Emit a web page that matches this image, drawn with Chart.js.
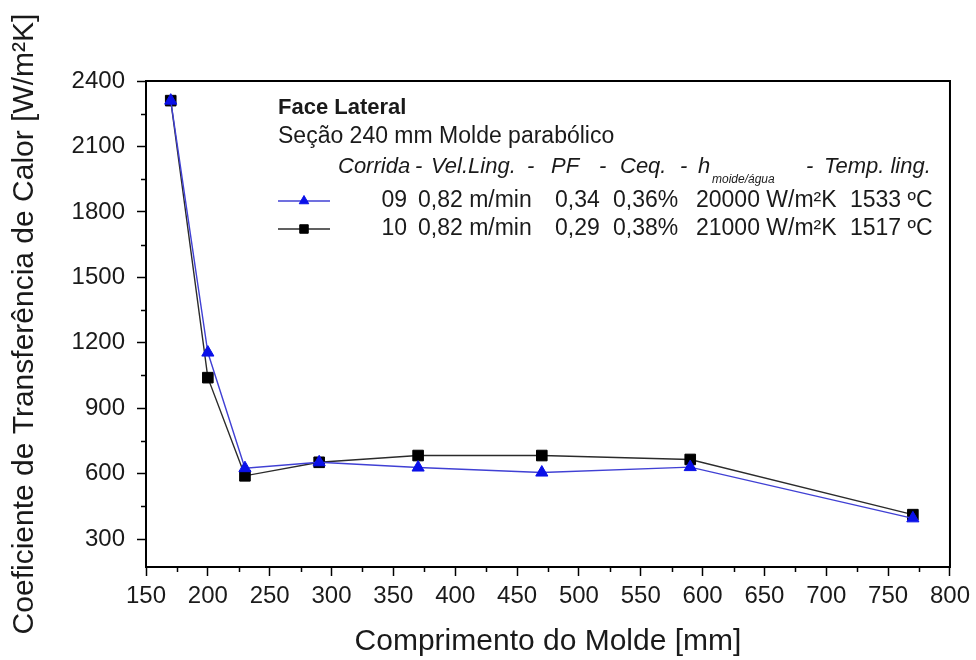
<!DOCTYPE html>
<html>
<head>
<meta charset="utf-8">
<script src="https://cdn.jsdelivr.net/npm/chart.js@4.4.1/dist/chart.umd.min.js"></script>
<style>
html,body{margin:0;padding:0;background:#fff;}
#wrap{width:976px;height:660px;position:relative;}
</style>
</head>
<body>
<div id="wrap"><canvas id="chart"></canvas></div>
<script>

// positions along the mould (mm)
const xValues = [170, 200, 230, 290, 370, 470, 590, 770];

// heat transfer coefficient, run 09 and run 10 (W/m2K)
const run09 = [2310, 1155, 625, 652, 628, 605, 630, 395];
const run10 = [2310, 1040, 590, 652, 683, 683, 665, 412];

const xTicks = [150, 200, 250, 300, 350, 400, 450, 500, 550, 600, 650, 700, 750, 800];
const yTicks = [300, 600, 900, 1200, 1500, 1800, 2100, 2400];
const xMinorTicks = [175, 225, 275, 325, 375, 425, 475, 525, 575, 625, 675, 725, 775];
const yMinorTicks = [450, 750, 1050, 1350, 1650, 1950, 2250];

const runNames = ["09", "10"];
const runInfo = [
["0,82 m/min", "0,34", "0,36%", "20000 W/m²K", "1533 ºC"],
["0,82 m/min", "0,29", "0,38%", "21000 W/m²K", "1517 ºC"]
];

const FONT = "'Liberation Sans', Arial, sans-serif";
const TXT = "#1a1a1a";

Chart.defaults.font.family = FONT;

const framePlugin = {
id: "frame",
beforeDatasetsDraw(chart){
const {ctx, chartArea:a, scales} = chart;
ctx.save();
ctx.strokeStyle = "#000";
ctx.lineWidth = 2;
ctx.strokeRect(a.left, a.top, a.right - a.left, a.bottom - a.top);
// minor ticks
ctx.lineWidth = 1.5;
ctx.beginPath();
xMinorTicks.forEach(v=>{
const px = Math.round(scales.x.getPixelForValue(v)) + 0.5;
ctx.moveTo(px, a.bottom);
ctx.lineTo(px, a.bottom + 5);
});
yMinorTicks.forEach(v=>{
const py = Math.round(scales.y.getPixelForValue(v)) + 0.5;
ctx.moveTo(a.left, py);
ctx.lineTo(a.left - 5, py);
});
ctx.stroke();
ctx.restore();
}
};

const legendPlugin = {
id: "boxLegend",
afterDraw(chart){
const ctx = chart.ctx;
ctx.save();
ctx.fillStyle = TXT;
ctx.textBaseline = "middle";
ctx.textAlign = "left";

ctx.font = "bold 22px " + FONT;
ctx.fillText("Face Lateral", 278, 108);

ctx.font = "23px " + FONT;
ctx.fillText("Seção 240 mm Molde parabólico", 278, 137);

ctx.font = "italic 22px " + FONT;
[["Corrida", 338], ["-", 415], ["Vel.Ling.", 431], ["-", 527], ["PF", 551], ["-", 599],
 ["Ceq.", 620], ["-", 680], ["h", 698], ["-", 806], ["Temp. ling.", 824]]
.forEach(([t, x])=>ctx.fillText(t, x, 167));
ctx.font = "italic 12px " + FONT;
ctx.fillText("moide/água", 712, 180);

const rowY = [201, 229];
chart.data.datasets.forEach((ds, i)=>{
const y = rowY[i];
ctx.strokeStyle = ds.borderColor;
ctx.lineWidth = 1.5;
ctx.beginPath();
ctx.moveTo(278, y);
ctx.lineTo(330, y);
ctx.stroke();
ctx.fillStyle = ds.pointBackgroundColor;
ctx.strokeStyle = ds.pointBorderColor;
ctx.lineWidth = 1;
Chart.helpers.drawPoint(ctx, {pointStyle: ds.pointStyle, radius: ds.pointRadius - 1.5, rotation: 0, borderWidth: 1}, 304, y);

ctx.fillStyle = TXT;
ctx.font = "23px " + FONT;
ctx.textAlign = "right";
ctx.fillText(runNames[i], 407, y);
ctx.textAlign = "left";
const xs = [418, 555, 613, 696, 850];
runInfo[i].forEach((t, k)=>ctx.fillText(t, xs[k], y));
});
ctx.restore();
}
};

new Chart(document.getElementById("chart"), {
type: "line",
data: {
datasets: [
{
label: "09",
data: xValues.map((x, i)=>({x, y: run09[i]})),
borderColor: "#4040d4",
borderWidth: 1.4,
pointStyle: "triangle",
pointRadius: 7,
pointBackgroundColor: "#0a10e8",
pointBorderColor: "#0a10e8",
pointBorderWidth: 1,
tension: 0
},
{
label: "10",
data: xValues.map((x, i)=>({x, y: run10[i]})),
borderColor: "#2b2b2b",
borderWidth: 1.4,
pointStyle: "rect",
pointRadius: 7.5,
pointBackgroundColor: "#000",
pointBorderColor: "#000",
pointBorderWidth: 1,
tension: 0
}
]
},
options: {
responsive: true,
maintainAspectRatio: false,
animation: false,
layout: {padding: {left: 0, right: 25, top: 81, bottom: 0}},
plugins: {
legend: {display: false},
tooltip: {enabled: false}
},
scales: {
x: {
type: "linear",
min: 150,
max: 800,
afterBuildTicks(axis){ axis.ticks = xTicks.map(v=>({value: v})); },
afterFit(axis){ axis.height = 93; },
grid: {drawOnChartArea: false, tickLength: 9, tickWidth: 1.5, tickColor: "#000"},
border: {display: false},
ticks: {padding: 6, color: TXT, font: {size: 24}, maxRotation: 0, autoSkip: false, callback: v=>String(v)},
title: {display: true, text: "Comprimento do Molde [mm]", color: TXT, font: {size: 30}, padding: {top: 0, bottom: 0}}
},
y: {
type: "linear",
min: 172,
max: 2400,
afterBuildTicks(axis){ axis.ticks = yTicks.map(v=>({value: v})); },
afterFit(axis){ axis.width = 146; },
grid: {drawOnChartArea: false, tickLength: 9, tickWidth: 1.5, tickColor: "#000"},
border: {display: false},
ticks: {padding: 12, color: TXT, font: {size: 24}, callback: v=>String(v)},
title: {display: true, text: "Coeficiente de Transferência de Calor [W/m²K]", color: TXT, font: {size: 30}, padding: {top: 7, bottom: 0}}
}
}
},
plugins: [framePlugin, legendPlugin]
});
</script>
</body>
</html>
